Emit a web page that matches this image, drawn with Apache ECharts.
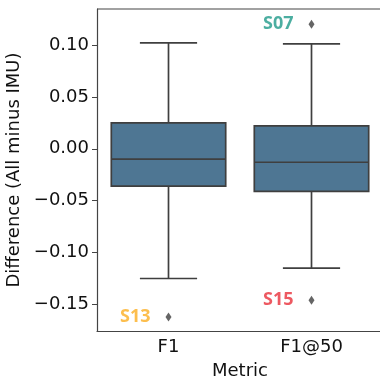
<!DOCTYPE html>
<html>
<head>
<meta charset="utf-8">
<script src="https://cdn.jsdelivr.net/npm/echarts@6/dist/echarts.min.js"></script>
<style>
  html, body { margin: 0; padding: 0; background: #fff; overflow: hidden; }
  #chart { width: 380px; height: 381px; }
</style>
</head>
<body>
<div id="chart"></div>
<script>
// box stats per metric
var categories = ['F1', 'F1@50'];
var lowWhisker = [-0.125, -0.115];
var q1 = [-0.036, -0.041];
var median = [-0.010, -0.013];
var q3 = [0.025, 0.022];
var highWhisker = [0.102, 0.101];

// outliers, with subject labels
var outlierCat = ['F1', 'F1@50', 'F1@50'];
var outlierVal = [-0.162, 0.120, -0.146];
var outlierName = ['S13', 'S07', 'S15'];
var outlierColor = ['#fbae22', '#1f9a8a', '#e8303a'];

var yTicks = [-0.15, -0.10, -0.05, 0.00, 0.05, 0.10];

var boxData = categories.map(function (c, i) {
  return [i, lowWhisker[i], q1[i], median[i], q3[i], highWhisker[i]];
});

var lineCol = '#3f3f3f';
var boxFill = '#4e7693';
var spineCol = '#444';

function fmt(v) {
  var s = Math.abs(v).toFixed(2);
  return (v < -1e-9 ? '\u2212' : '') + s;
}

var chart = echarts.init(document.getElementById('chart'));
chart.setOption({
  animation: false,
  grid: {
    left: 97, top: 9, right: -3, bottom: 50,
    outerBoundsMode: 'none',
    containLabel: false
  },
  xAxis: [
    {
      type: 'category',
      data: categories,
      name: 'Metric',
      nameLocation: 'middle',
      nameGap: 31,
      nameTextStyle: { fontFamily: 'DejaVu Sans', fontSize: 18, color: '#111' },
      axisLine: { onZero: false, lineStyle: { color: spineCol, width: 1.2 } },
      axisTick: { alignWithLabel: true, length: 5, lineStyle: { color: spineCol } },
      axisLabel: { fontFamily: 'DejaVu Sans', fontSize: 18, color: '#111', margin: 7 },
      splitLine: { show: false }
    }
  ],
  yAxis: {
    type: 'value',
    min: -0.1756,
    max: 0.1347,
    name: 'Difference (All minus IMU)',
    nameLocation: 'middle',
    nameRotate: 90,
    nameGap: 67,
    nameTextStyle: { fontFamily: 'DejaVu Sans', fontSize: 18, color: '#111' },
    axisLine: { show: true, lineStyle: { color: spineCol, width: 1.2 } },
    axisTick: { show: true, length: 5, customValues: yTicks, lineStyle: { color: spineCol } },
    axisLabel: {
      fontFamily: 'DejaVu Sans', fontSize: 18, color: '#111', margin: 8,
      customValues: yTicks,
      formatter: fmt
    },
    splitLine: { show: false }
  },
  series: [
    {
      type: 'custom',
      data: boxData,
      renderItem: function (params, api) {
        var x = api.value(0);
        var bandW = api.size([1, 0])[0];
        var boxW = bandW * 0.8;
        var capW = boxW / 2;
        var cx = api.coord([x, 0])[0];
        var yLo = api.coord([x, api.value(1)])[1];
        var yQ1 = api.coord([x, api.value(2)])[1];
        var yMed = api.coord([x, api.value(3)])[1];
        var yQ3 = api.coord([x, api.value(4)])[1];
        var yHi = api.coord([x, api.value(5)])[1];
        var ls = { stroke: lineCol, lineWidth: 1.7 };
        return {
          type: 'group',
          children: [
            { type: 'line', shape: { x1: cx, y1: yQ3, x2: cx, y2: yHi }, style: ls },
            { type: 'line', shape: { x1: cx, y1: yQ1, x2: cx, y2: yLo }, style: ls },
            { type: 'line', shape: { x1: cx - capW / 2, y1: yHi, x2: cx + capW / 2, y2: yHi }, style: ls },
            { type: 'line', shape: { x1: cx - capW / 2, y1: yLo, x2: cx + capW / 2, y2: yLo }, style: ls },
            { type: 'rect', shape: { x: cx - boxW / 2, y: yQ3, width: boxW, height: yQ1 - yQ3 },
              style: { fill: boxFill, stroke: lineCol, lineWidth: 1.7 } },
            { type: 'line', shape: { x1: cx - boxW / 2, y1: yMed, x2: cx + boxW / 2, y2: yMed }, style: ls }
          ]
        };
      }
    },
    {
      type: 'scatter',
      symbol: 'diamond',
      symbolSize: [6, 9],
      itemStyle: { color: '#3f3f3f' },
      data: outlierVal.map(function (v, i) {
        return {
          value: [outlierCat[i], v],
          name: outlierName[i],
          label: { color: outlierColor[i] }
        };
      }),
      label: {
        show: true,
        position: 'left',
        distance: 15,
        formatter: '{b}',
        fontFamily: 'Noto Sans',
        fontWeight: 'bold',
        fontSize: 18
      }
    }
  ],
  graphic: [
    {
      // top spine
      type: 'line',
      shape: { x1: 97, y1: 9, x2: 383, y2: 9 },
      style: { stroke: spineCol, lineWidth: 1.2 },
      silent: true
    }
  ]
});
</script>
</body>
</html>
